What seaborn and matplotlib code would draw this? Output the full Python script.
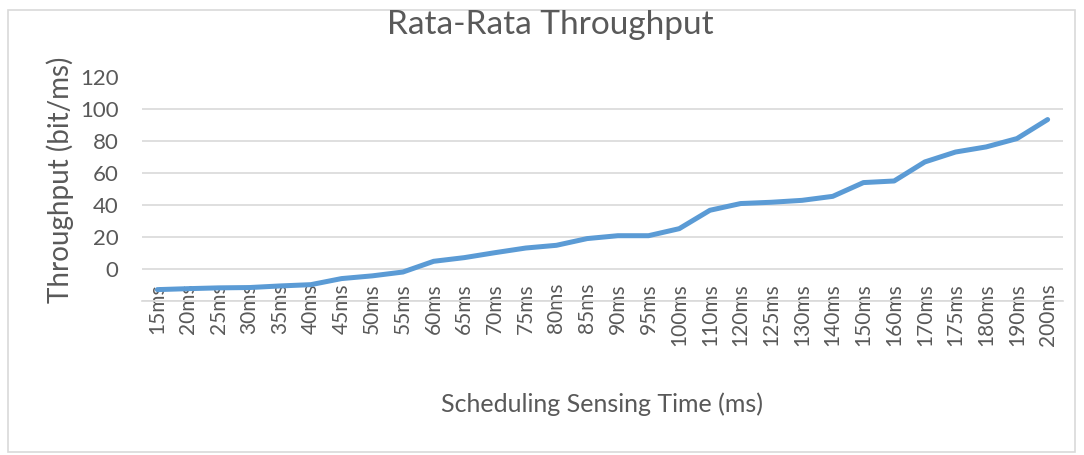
import matplotlib.pyplot as plt
import seaborn as sns
import pandas as pd
from matplotlib.patches import Rectangle

times = ["15ms", "20ms", "25ms", "30ms", "35ms", "40ms", "45ms", "50ms", "55ms",
         "60ms", "65ms", "70ms", "75ms", "80ms", "85ms", "90ms", "95ms", "100ms",
         "110ms", "120ms", "125ms", "130ms", "140ms", "150ms", "160ms", "170ms",
         "175ms", "180ms", "190ms", "200ms"]
throughput = [-12.9, -12.3, -11.8, -11.6, -10.6, -9.8, -6.0, -4.3, -1.9, 4.8,
              7.1, 10.2, 13.1, 14.8, 19.0, 20.8, 20.8, 25.2, 36.7, 40.9,
              41.7, 42.9, 45.4, 54.0, 55.0, 66.9, 73.1, 76.3, 81.5, 93.4]
y_ticks = [-20, 0, 20, 40, 60, 80, 100, 120]
y_tick_labels = ["", "0", "20", "40", "60", "80", "100", "120"]

sns.set_style("white")
plt.rcParams["font.family"] = ["Lato", "DejaVu Sans"]
text_color = "#595959"
grid_color = "#d9d9d9"

df = pd.DataFrame({"time": times, "throughput": throughput})

fig = plt.figure(figsize=(10.84, 4.55), dpi=100)
ax = fig.add_axes([0.131, 0.3385, 0.8496, 0.4923])

sns.lineplot(data=df, x="time", y="throughput", ax=ax,
             color="#5b9bd5", linewidth=3.6, sort=False)

ax.set_xlim(-0.5, len(times) - 0.5)
ax.set_ylim(-20, 120)
ax.set_yticks(y_ticks)
ax.set_yticklabels(y_tick_labels)
ax.yaxis.grid(True, color=grid_color, linewidth=1.2)
ax.get_ygridlines()[-1].set_visible(False)
ax.set_axisbelow(True)

for side in ["top", "right", "left"]:
    ax.spines[side].set_visible(False)
ax.spines["bottom"].set_color(grid_color)
ax.spines["bottom"].set_linewidth(1.2)

ax.tick_params(axis="both", length=0, colors=text_color, labelsize=16)
ax.tick_params(axis="x", labelrotation=90, pad=-13, labelsize=15)
ax.tick_params(axis="y", pad=17)

fig.text(550 / 1084, 1 - 25 / 455, "Rata-Rata Throughput", fontsize=24,
         color=text_color, ha="center", va="center")
ax.set_xlabel("Scheduling Sensing Time (ms)", fontsize=18, color=text_color,
              labelpad=34)
ax.set_ylabel("Throughput (bit/ms)", fontsize=20, color=text_color)
ax.yaxis.set_label_coords(-0.074, 0.54)

# outer chart border, like the Excel chart area
fig.patches.append(Rectangle((8 / 1084, 3 / 455), 1067 / 1084, 442 / 455,
                             transform=fig.transFigure, fill=False,
                             edgecolor=grid_color, linewidth=1.2))

fig.savefig("out.png", dpi=100)
